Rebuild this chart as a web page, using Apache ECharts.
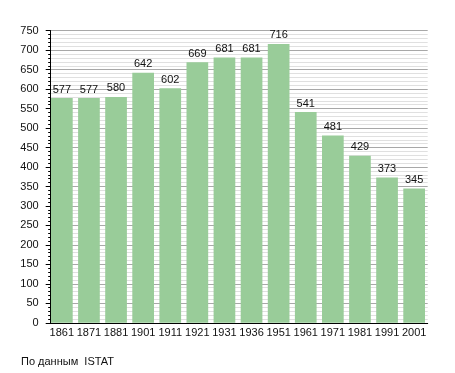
<!DOCTYPE html>
<html><head><meta charset="utf-8">
<script src="https://cdn.jsdelivr.net/npm/echarts@6/dist/echarts.min.js"></script>
<style>html,body{margin:0;padding:0;background:#fff}#c{width:455px;height:373px}</style>
</head><body><div id="c"></div>
<script>
const years = ['1861','1871','1881','1901','1911','1921','1931','1936','1951','1961','1971','1981','1991','2001'];
const population = [577,577,580,642,602,669,681,681,716,541,481,429,373,345];
const yTicks = {min: 0, max: 750, interval: 50};
const sourceText = 'По данным  ISTAT';

const chart = echarts.init(document.getElementById('c'), null, {renderer: 'canvas'});
const font = 'Liberation Sans, Arial, sans-serif';
chart.setOption({
  animation: false,
  grid: {left: 48.3, right: 27.3, top: 30.7, bottom: 50.2},
  graphic: [{type: 'text', left: 21, top: 356, style: {text: sourceText, font: '11px ' + font, fill: '#111'}}],
  xAxis: {
    type: 'category', data: years,
    axisLine: {lineStyle: {color: '#000', width: 1}},
    axisTick: {show: false},
    axisLabel: {color: '#111', fontFamily: font, fontSize: 11, margin: 5, interval: 0}
  },
  yAxis: {
    type: 'value', min: yTicks.min, max: yTicks.max, interval: yTicks.interval,
    offset: -2.4,
    axisLine: {show: true, lineStyle: {color: '#000', width: 1}},
    axisTick: {show: true, length: 5, lineStyle: {color: '#000'}},
    minorTick: {show: true, splitNumber: 5, length: 2.5, lineStyle: {color: '#000'}},
    axisLabel: {color: '#111', fontFamily: font, fontSize: 11, margin: 12},
    splitLine: {show: true, lineStyle: {color: '#a8a8a8', width: 1}},
    minorSplitLine: {show: true, lineStyle: {color: '#e0e0e0', width: 1}}
  },
  series: [{
    type: 'bar', data: population, barWidth: 21.7,
    itemStyle: {color: '#99cc99'},
    label: {show: true, position: 'top', distance: 3, color: '#111', fontFamily: font, fontSize: 11}
  }]
});
</script></body></html>
